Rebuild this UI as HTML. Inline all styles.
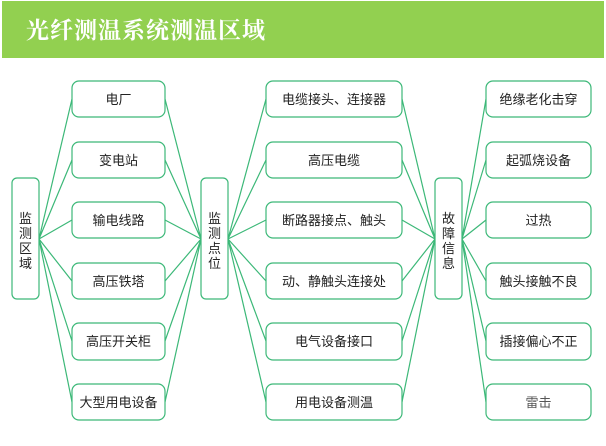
<!DOCTYPE html>
<html><head><meta charset="utf-8"><style>
html,body{margin:0;padding:0;background:#fff;width:606px;height:446px;overflow:hidden}
svg{display:block}
text{font-family:"Liberation Sans","Noto Sans CJK SC",sans-serif;font-size:13px;fill:#222}
</style></head><body>
<svg width="606" height="446" viewBox="0 0 606 446" xmlns="http://www.w3.org/2000/svg">
<rect x="2" y="1" width="602" height="57" fill="#92d050"/>
<text x="26" y="38" style="font-family:'Noto Serif CJK SC',serif;font-size:23px;font-weight:bold;fill:#fff;letter-spacing:1px">光纤测温系统测温区域</text>
<g stroke="#3cb878" stroke-width="1.2" fill="none">
<!-- col1 -->
<path d="M39 239L72 99M39 239L72 160M39 239L72 220M39 239L72 281M39 239L72 341M39 239L72 402"/>
<path d="M201 239L165 99M201 239L165 160M201 239L165 220M201 239L165 281M201 239L165 341M201 239L165 402"/>
<path d="M228 239L266 99M228 239L266 160M228 239L266 220M228 239L266 281M228 239L266 341M228 239L266 402"/>
<path d="M435 239L402 99M435 239L402 160M435 239L402 220M435 239L402 281M435 239L402 341M435 239L402 402"/>
<path d="M462 239L486 99M462 239L486 160M462 239L486 220M462 239L486 281M462 239L486 341M462 239L486 402"/>
</g>
<g stroke="#3cb878" stroke-width="1.2" fill="#fff">
<rect x="12" y="178" width="27" height="121" rx="5"/>
<rect x="201" y="178" width="27" height="121" rx="5"/>
<rect x="435" y="178" width="27" height="121" rx="5"/>
<rect x="72" y="81" width="93" height="36" rx="7"/>
<rect x="72" y="142" width="93" height="36" rx="7"/>
<rect x="72" y="202" width="93" height="36" rx="7"/>
<rect x="72" y="263" width="93" height="36" rx="7"/>
<rect x="72" y="323" width="93" height="37" rx="7"/>
<rect x="72" y="384" width="93" height="36" rx="7"/>
<rect x="266" y="81" width="136" height="36" rx="7"/>
<rect x="266" y="142" width="136" height="36" rx="7"/>
<rect x="266" y="202" width="136" height="36" rx="7"/>
<rect x="266" y="263" width="136" height="36" rx="7"/>
<rect x="266" y="323" width="136" height="37" rx="7"/>
<rect x="266" y="384" width="136" height="36" rx="7"/>
<rect x="486" y="81" width="105" height="36" rx="7"/>
<rect x="486" y="142" width="105" height="36" rx="7"/>
<rect x="486" y="202" width="105" height="36" rx="7"/>
<rect x="486" y="263" width="105" height="36" rx="7"/>
<rect x="486" y="323" width="105" height="37" rx="7"/>
<rect x="486" y="384" width="105" height="36" rx="7"/>
</g>
<g text-anchor="middle">
<text x="25.5" y="223">监</text><text x="25.5" y="238">测</text><text x="25.5" y="253">区</text><text x="25.5" y="268">域</text>
<text x="214.5" y="223">监</text><text x="214.5" y="238">测</text><text x="214.5" y="253">点</text><text x="214.5" y="268">位</text>
<text x="448.5" y="223">故</text><text x="448.5" y="238">障</text><text x="448.5" y="253">信</text><text x="448.5" y="268">息</text>
<text x="118.5" y="104">电厂</text>
<text x="118.5" y="165">变电站</text>
<text x="118.5" y="225">输电线路</text>
<text x="118.5" y="286">高压铁塔</text>
<text x="118.5" y="346">高压开关柜</text>
<text x="118.5" y="407">大型用电设备</text>
<text x="334" y="104">电缆接头、连接器</text>
<text x="334" y="165">高压电缆</text>
<text x="334" y="225">断路器接点、触头</text>
<text x="334" y="286">动、静触头连接处</text>
<text x="334" y="346">电气设备接口</text>
<text x="334" y="407">用电设备测温</text>
<text x="538.5" y="104">绝缘老化击穿</text>
<text x="538.5" y="165">起弧烧设备</text>
<text x="538.5" y="225">过热</text>
<text x="538.5" y="286">触头接触不良</text>
<text x="538.5" y="346">插接偏心不正</text>
<text x="538.5" y="407" style="fill:#555">雷击</text>
</g>
</svg>
</body></html>
